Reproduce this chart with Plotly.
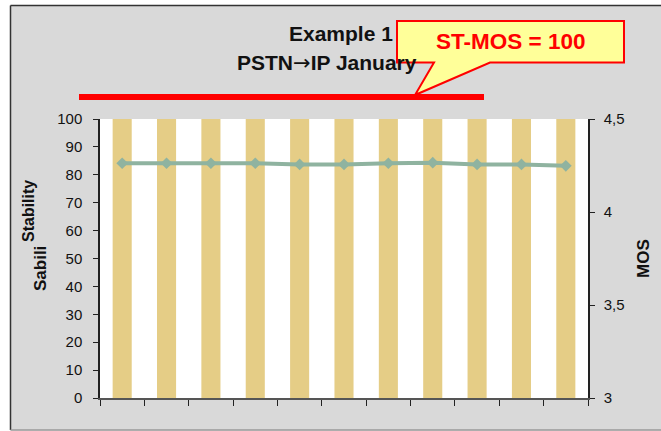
import plotly.graph_objects as go

# ---- data ----
categories = list(range(11))
stability = [100, 100, 100, 100, 100, 100, 100, 100, 100, 100, 100]
mos = [4.262, 4.262, 4.262, 4.262, 4.256, 4.256, 4.262, 4.265, 4.256, 4.256, 4.248]
left_ticks = [0, 10, 20, 30, 40, 50, 60, 70, 80, 90, 100]
right_ticks = [3, 3.5, 4, 4.5]
x_boundaries = [i - 0.5 for i in range(12)]

W, H = 661, 431
PL, PR, PT, PB = 100, 588, 119, 398          # plot area in pixels
L, R, T, B = PL, W - PR, PT, H - PB
PW, PH = PR - PL, PB - PT


def X(px):
    return (px - PL) / PW


def Y(py):
    return (PB - py) / PH


FONT = "Liberation Sans, Arial, sans-serif"
BAR = "#E5CD86"
LINE = "#8FB3A0"
GREY = "#D9D9D9"

fig = go.Figure()
fig.add_trace(go.Bar(x=categories, y=stability, marker=dict(color=BAR, line=dict(width=0)),
                     width=0.43, yaxis="y", xaxis="x", showlegend=False))
fig.add_trace(go.Scatter(x=categories, y=mos, mode="lines+markers", yaxis="y2", xaxis="x",
                         line=dict(color=LINE, width=4),
                         marker=dict(symbol="diamond", size=9, color=LINE),
                         showlegend=False))

axis_common = dict(showgrid=False, zeroline=False, tickcolor="#222", tickwidth=1.2,
                   tickfont=dict(family=FONT, size=15, color="#111"))

fig.update_layout(
    width=W, height=H,
    margin=dict(l=L, r=R, t=T, b=B),
    paper_bgcolor=GREY, plot_bgcolor="white",
    separators=",.",
    hovermode=False,
    xaxis=dict(range=[-0.5, 10.5], tickmode="array", tickvals=x_boundaries,
               showticklabels=False, ticks="outside", ticklen=6,
               showline=True, linecolor="#555", linewidth=2, **axis_common),
    xaxis2=dict(range=[-0.5, 10.5], overlaying="x", anchor="y", tickmode="array",
                tickvals=x_boundaries, showticklabels=False, ticks="inside", ticklen=5,
                showline=False, **axis_common),
    yaxis=dict(range=[0, 100], tickmode="array", tickvals=left_ticks,
               ticks="outside", ticklen=5, showline=True, linecolor="#222", linewidth=1.5,
               ticklabelstandoff=8, **axis_common),
    yaxis3=dict(range=[0, 100], overlaying="y", anchor="x", tickmode="array",
                tickvals=left_ticks, ticks="inside", ticklen=5, showticklabels=False,
                showline=False, **axis_common),
    yaxis2=dict(range=[3, 4.5], tickmode="array", tickvals=right_ticks, side="right",
                overlaying="y", anchor="x", ticks="outside", ticklen=5,
                showline=True, linecolor="#222", linewidth=1.5, ticklabelstandoff=6,
                **axis_common),
    yaxis4=dict(range=[3, 4.5], overlaying="y", side="right", anchor="x", tickmode="array",
                tickvals=right_ticks, ticks="inside", ticklen=5, showticklabels=False,
                showline=False, **axis_common),
)

shapes = [
    # white page outside the chart frame
    dict(type="rect", xref="paper", yref="paper", x0=X(-5), x1=X(10.5), y0=Y(450), y1=Y(-5),
         fillcolor="white", line=dict(width=0), layer="above"),
    dict(type="rect", xref="paper", yref="paper", x0=X(-5), x1=X(680), y0=Y(5.5), y1=Y(-5),
         fillcolor="white", line=dict(width=0), layer="above"),
    dict(type="rect", xref="paper", yref="paper", x0=X(-5), x1=X(680), y0=Y(450), y1=Y(430.5),
         fillcolor="white", line=dict(width=0), layer="above"),
    # frame lines
    dict(type="line", xref="paper", yref="paper", x0=X(10.5), x1=X(10.5), y0=Y(430), y1=Y(5.5),
         line=dict(color="#333", width=1.5), layer="above"),
    dict(type="line", xref="paper", yref="paper", x0=X(10.5), x1=X(680), y0=Y(5.5), y1=Y(5.5),
         line=dict(color="#333", width=1.5), layer="above"),
    dict(type="line", xref="paper", yref="paper", x0=X(10.5), x1=X(680), y0=Y(430), y1=Y(430),
         line=dict(color="#999", width=1.5), layer="above"),
    # red reference line
    dict(type="line", xref="paper", yref="paper", x0=X(79), x1=X(484), y0=Y(97), y1=Y(97),
         line=dict(color="#FF0000", width=6), layer="above"),
]

pts = [(397, 21), (624, 21), (624, 62.5), (490, 62.5), (415, 95), (434, 62.5), (397, 62.5)]
path = "M " + " L ".join(f"{X(a):.5f},{Y(b):.5f}" for a, b in pts) + " Z"
shapes.append(dict(type="path", xref="paper", yref="paper", path=path,
                   fillcolor="#FFFF99", line=dict(color="#FF0000", width=2), layer="above"))
fig.update_layout(shapes=shapes)

arrow = '<span style="font-family:DejaVu Sans;font-weight:normal">→</span>'
ann = [
    dict(text="<b>Example 1</b>", x=X(287), y=Y(34), xanchor="left", yanchor="middle",
         font=dict(family=FONT, size=21, color="#111")),
    dict(text=f"<b>PSTN{arrow}IP January</b>", x=X(235), y=Y(63), xanchor="left",
         yanchor="middle", font=dict(family=FONT, size=21, color="#111")),
    dict(text="<b>ST-MOS = 100</b>", x=X(510), y=Y(41.5), xanchor="center", yanchor="middle",
         font=dict(family=FONT, size=22.5, color="#FF0000")),
    dict(text="<b>Sabili</b>", x=X(40), y=Y(269), xanchor="center", yanchor="middle",
         textangle=-90, font=dict(family=FONT, size=17, color="#111")),
    dict(text="<b>Stability</b>", x=X(28), y=Y(211), xanchor="center", yanchor="middle",
         textangle=-90, font=dict(family=FONT, size=16, color="#111")),
    dict(text="<b>MOS</b>", x=X(643), y=Y(259), xanchor="center", yanchor="middle",
         textangle=-90, font=dict(family=FONT, size=17, color="#111")),
]
for a in ann:
    a.update(xref="paper", yref="paper", showarrow=False)
fig.update_layout(annotations=ann)

fig.write_html("out.html", config={"displayModeBar": False},
               post_script="document.body.style.margin='0';")
